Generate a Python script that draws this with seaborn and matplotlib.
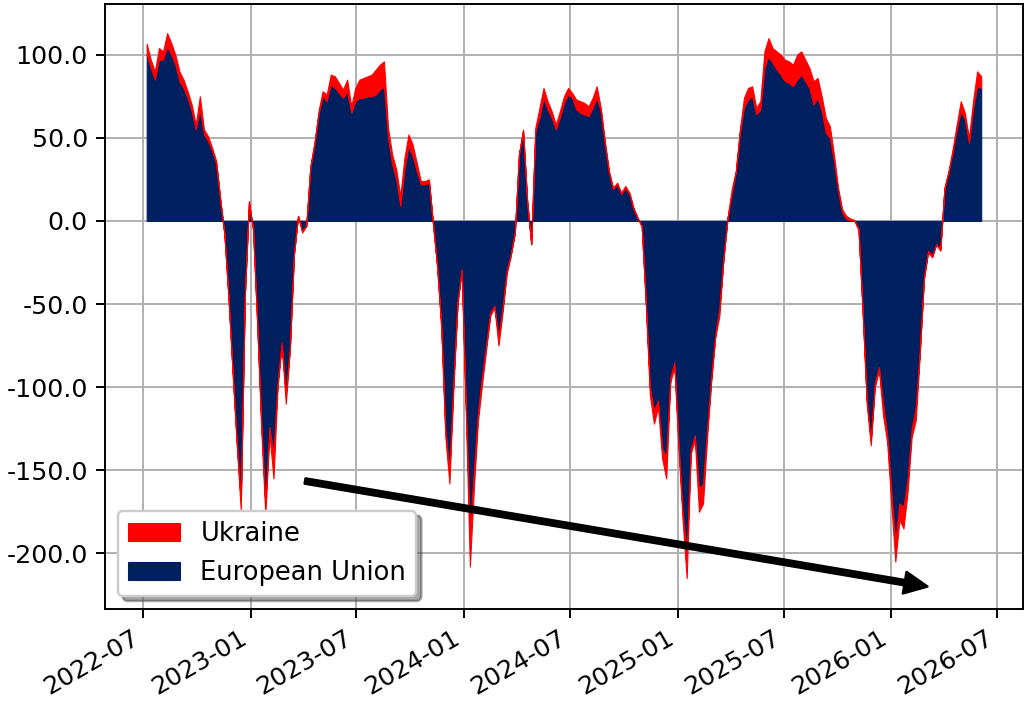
import pandas as pd
import matplotlib
matplotlib.use("Agg")
import matplotlib.pyplot as plt
import matplotlib.dates as mdates
import matplotlib.ticker as mticker
import seaborn as sns

# weekly readings, first week 2022-07-07
start_date = "2022-07-07"

eu = [100, 92, 85, 97, 97, 105, 100, 94, 84, 80,
      74, 66, 55, 67, 52, 48, 42, 34, 12, -8,
      -46, -90, -132, -168, -44, 11, -5, -60, -121, -170,
      -124, -140, -97, -73, -104, -76, -20, 3, -6, -3,
      32, 46, 64, 75, 72, 82, 80, 77, 74, 78,
      65, 72, 74, 74, 75, 75, 76, 79, 81, 50,
      34, 25, 9, 31, 45, 39, 30, 22, 22, 23,
      -2, -27, -62, -125, -150, -95, -48, -29, -110, -185,
      -150, -114, -93, -74, -55, -51, -70, -52, -30, -20,
      -7, 40, 54, 12, -14, 54, 62, 74, 67, 62,
      55, 62, 71, 76, 74, 67, 65, 64, 63, 68,
      74, 66, 46, 29, 19, 22, 16, 20, 16, 7,
      1.5, -3, -48, -100, -114, -108, -137, -142, -94, -85,
      -133, -175, -200, -137, -129, -161, -158, -125, -94, -68,
      -52, -22, 2, 16, 29, 53, 68, 73, 75, 64,
      67, 92, 99, 95, 91, 88, 84, 83, 81, 85,
      88, 84, 80, 70, 74, 66, 53, 50, 36, 18,
      5, 1, 0.3, 0, -5, -53, -107, -132, -97, -88,
      -110, -128, -162, -193, -170, -172, -155, -125, -112, -77,
      -34, -18, -21, -14, -17, 19, 29, 41, 55, 66,
      61, 47, 67, 81, 80]

total = [106.6, 97, 90, 104, 102, 113, 107, 100, 90, 85,
         78, 70, 58, 75, 55, 51, 44, 36, 13, -8,
         -47, -92, -135, -174, -45, 12, -5, -62, -125, -177,
         -128, -155, -100, -75, -110, -78, -20, 3, -7, -3,
         33, 47, 66, 78, 76, 88, 87, 83, 79, 85,
         69, 80, 85, 86, 87, 88, 91, 94, 96, 56,
         40, 31, 15, 38, 52, 46, 35, 24, 24, 25,
         -2, -28, -65, -130, -158, -100, -50, -30, -115, -208,
         -160, -120, -98, -77, -57, -52, -75, -55, -32, -21,
         -7, 40, 55, 12, -14, 56, 68, 80, 72, 66,
         58, 66, 75, 80, 77, 73, 72, 71, 69, 74,
         81, 68, 48, 30, 20, 23, 17, 21, 17, 8,
         2, -3, -50, -105, -122, -112, -143, -155, -97, -88,
         -138, -180, -215, -140, -132, -175, -170, -130, -97, -70,
         -57, -23, 2, 19, 30, 55, 74, 80, 81, 68,
         72, 102, 110, 104, 102, 100, 97, 96, 94, 100,
         102, 97, 92, 84, 86, 75, 62, 57, 40, 20,
         7, 3, 1.5, 0.5, -5, -55, -110, -135, -100, -90,
         -117, -133, -170, -205, -180, -185, -163, -130, -120, -80,
         -35, -19, -22, -14, -18, 20, 30, 43, 58, 72,
         65, 50, 72, 90, 87]

ukraine = [round(t - e, 1) for t, e in zip(total, eu)]
dates = pd.date_range(start_date, periods=len(eu), freq="7D")

series_labels = ["European Union", "Ukraine"]
series_colors = ["#002060", "#ff0000"]

arrow_from = (pd.Timestamp("2023-04-04"), -156.5)
arrow_to = (pd.Timestamp("2026-03-04"), -220)

sns.set_style("ticks", {
    "axes.grid": True,
    "grid.color": "#b0b0b0",
    "axes.edgecolor": "black",
    "text.color": "black",
    "xtick.color": "black",
    "ytick.color": "black",
    "axes.labelcolor": "black",
    "patch.force_edgecolor": False,
})
plt.rcParams["font.family"] = ["DejaVu Sans"]
plt.rcParams["font.size"] = 10.4

fig, ax = plt.subplots(figsize=(1025 / 175, 705 / 175), dpi=175)
fig.subplots_adjust(left=0.1024, right=0.998, top=0.9943, bottom=0.1362)

ax.stackplot(dates, eu, ukraine, colors=series_colors, labels=series_labels,
             edgecolor="face", linewidth=0.45)
ax.set_ylim(-233.5, 130.5)
ax.grid(True, color="#b0b0b0", linewidth=0.8)

ax.yaxis.set_major_locator(mticker.MultipleLocator(50))
ax.yaxis.set_major_formatter(mticker.FormatStrFormatter("%.1f"))
ax.xaxis.set_major_locator(mdates.MonthLocator(bymonth=[1, 7]))
ax.xaxis.set_major_formatter(mdates.DateFormatter("%Y-%m"))
for lbl in ax.get_xticklabels():
    lbl.set_rotation(30)
    lbl.set_horizontalalignment("right")

ax.annotate("", xy=arrow_to, xytext=arrow_from,
            arrowprops=dict(facecolor="black", edgecolor="black", width=2.2,
                            headwidth=9, headlength=9.5, shrink=0))

handles, labels = ax.get_legend_handles_labels()
ax.legend(handles[::-1], labels[::-1], loc="lower left", shadow=True,
          fontsize=10.6)

plt.savefig("out.png", dpi=175)
plt.close()
